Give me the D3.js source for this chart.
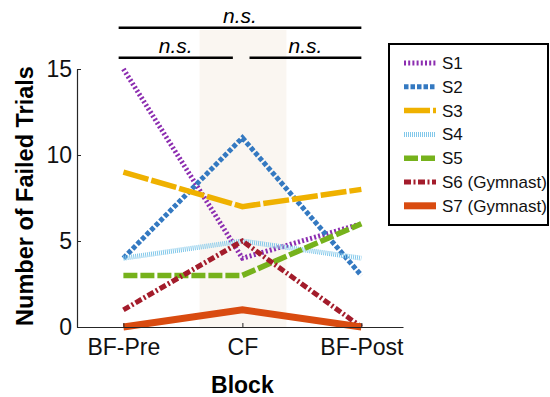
<!DOCTYPE html>
<html>
<head>
<meta charset="utf-8">
<script src="https://cdn.jsdelivr.net/npm/d3@7"></script>
<style>
  body { margin: 0; background: #fff; }
  svg { display: block; font-family: "Liberation Sans", Arial, sans-serif; }
</style>
</head>
<body>
<svg id="chart" width="550" height="397"></svg>
<script>
// Blocks on the x axis
const blocks = ['BF-Pre', 'CF', 'BF-Post'];

// Failed trials per subject, one value per block
const subjects = ['S1', 'S2', 'S3', 'S4', 'S5', 'S6 (Gymnast)', 'S7 (Gymnast)'];
const s1 = [15, 4, 6];
const s2 = [4, 11, 3];
const s3 = [9, 7, 8];
const s4 = [4, 5, 4];
const s5 = [3, 3, 6];
const s6 = [1, 5, 0];
const s7 = [0, 1, 0];
const yTicks = [0, 5, 10, 15];

// Significance brackets: [from block, to block, level, label]
const sigBars = [
  [-0.04, 2.0, 17.4, 'n.s.'],
  [-0.04, 0.92, 15.65, 'n.s.'],
  [1.06, 2.0, 15.65, 'n.s.'],
];

const svg = d3.select('#chart');

// Plot area
const margin = { left: 77, right: 403, top: 69, bottom: 327 };

const x = d3.scaleLinear()
  .domain([-0.39, 2.35])
  .range([margin.left, margin.right]);

const y = d3.scaleLinear()
  .domain([0, 15])
  .range([margin.bottom, margin.top]);

// Shaded CF block
svg.append('rect')
  .attr('x', x(0.64))
  .attr('y', 30)
  .attr('width', x(1.37) - x(0.64))
  .attr('height', y(0) - 30)
  .attr('fill', '#faf6f1');

// Line styles per subject
const styles = [
  { color: '#8c2db0', dash: '2,2.2', width: 5 },
  { color: '#3479c1', dash: '4.5,2', width: 5 },
  { color: '#efb100', dash: '26,3', width: 5.5 },
  { color: '#82c8ea', dash: '1,1', width: 5 },
  { color: '#76b21c', dash: '14,3', width: 5.5 },
  { color: '#a31c2b', dash: '7,2.5,2,2.5', width: 5 },
  { color: '#d94b10', dash: null, width: 7 },
];
const series = [s1, s2, s3, s4, s5, s6, s7];

const line = d3.line()
  .x((d, i) => x(i))
  .y((d) => y(d));

series.forEach((vals, k) => {
  svg.append('path')
    .datum(vals)
    .attr('d', line)
    .attr('fill', 'none')
    .attr('stroke', styles[k].color)
    .attr('stroke-width', styles[k].width)
    .attr('stroke-dasharray', styles[k].dash);
});

// Axes (MATLAB style, ticks inside)
const axisColor = '#262626';

const yAxis = svg.append('g')
  .attr('transform', `translate(${margin.left},0)`)
  .call(d3.axisLeft(y).tickValues(yTicks).tickSizeInner(-4).tickSizeOuter(0).tickPadding(5));
yAxis.select('.domain').attr('stroke', axisColor).attr('stroke-width', 1.2);
yAxis.selectAll('.tick line').attr('stroke', axisColor);
yAxis.selectAll('text')
  .attr('fill', '#111')
  .style('font-size', '23px');

const xAxis = svg.append('g')
  .attr('transform', `translate(0,${margin.bottom})`)
  .call(d3.axisBottom(x).tickValues([0, 1, 2]).tickFormat((d) => blocks[d])
    .tickSizeInner(-4).tickSizeOuter(0).tickPadding(12));
xAxis.select('.domain').attr('stroke', axisColor).attr('stroke-width', 1.2);
xAxis.selectAll('.tick line').attr('stroke', axisColor);
xAxis.selectAll('text')
  .attr('fill', '#111')
  .style('font-size', '23px');

// Axis titles
svg.append('text')
  .attr('x', x(1))
  .attr('y', 393)
  .attr('text-anchor', 'middle')
  .style('font-size', '23px')
  .style('font-weight', 'bold')
  .text('Block');

svg.append('text')
  .attr('transform', `translate(33,196) rotate(-90)`)
  .attr('text-anchor', 'middle')
  .style('font-size', '23.5px')
  .style('font-weight', 'bold')
  .text('Number of Failed Trials');

// Significance brackets
sigBars.forEach(([a, b, lvl, label]) => {
  svg.append('line')
    .attr('x1', x(a)).attr('x2', x(b))
    .attr('y1', y(lvl)).attr('y2', y(lvl))
    .attr('stroke', '#000')
    .attr('stroke-width', 2.5);
  svg.append('text')
    .attr('x', (x(a) + x(b)) / 2)
    .attr('y', y(lvl) - 5)
    .attr('text-anchor', 'middle')
    .style('font-size', '21px')
    .style('font-style', 'italic')
    .text(label);
});

// Legend
const legend = svg.append('g');
legend.append('rect')
  .attr('x', 389)
  .attr('y', 44)
  .attr('width', 159)
  .attr('height', 181)
  .attr('fill', '#fff')
  .attr('stroke', '#000')
  .attr('stroke-width', 2);

subjects.forEach((name, k) => {
  const ly = 63 + k * 23.8;
  legend.append('line')
    .attr('x1', 404).attr('x2', 436)
    .attr('y1', ly).attr('y2', ly)
    .attr('stroke', styles[k].color)
    .attr('stroke-width', styles[k].width)
    .attr('stroke-dasharray', styles[k].dash);
  legend.append('text')
    .attr('x', 442)
    .attr('y', ly + 6)
    .style('font-size', '17px')
    .attr('fill', '#111')
    .text(name);
});
</script>
</body>
</html>
